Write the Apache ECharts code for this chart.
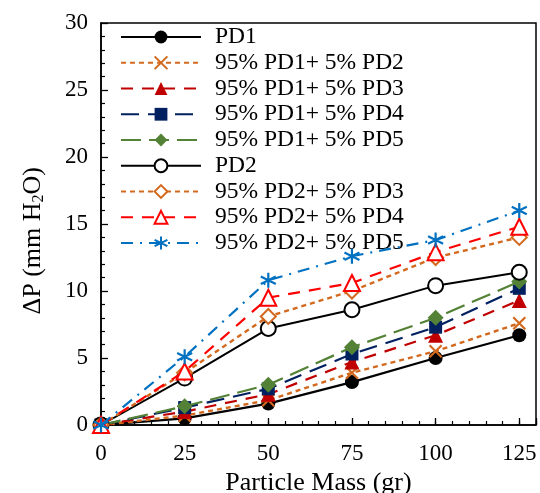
<!DOCTYPE html>
<html>
<head>
<meta charset="utf-8">
<script src="https://cdn.jsdelivr.net/npm/echarts@6/dist/echarts.min.js"></script>
<style>html,body{margin:0;padding:0;background:#fff}#c{width:540px;height:493px}</style>
</head>
<body>
<div id="c"></div>
<script>
const xValues = [0, 25, 50, 75, 100, 125];
const seriesNames = [
  'PD1',
  '95% PD1+ 5% PD2',
  '95% PD1+ 5% PD3',
  '95% PD1+ 5% PD4',
  '95% PD1+ 5% PD5',
  'PD2',
  '95% PD2+ 5% PD3',
  '95% PD2+ 5% PD4',
  '95% PD2+ 5% PD5'
];
const pd1      = [0, 0.5, 1.6, 3.2, 5.0, 6.7];
const pd1_pd2  = [0, 0.7, 1.85, 3.9, 5.5, 7.6];
const pd1_pd3  = [0, 1.0, 2.3, 4.7, 6.7, 9.3];
const pd1_pd4  = [0, 1.3, 2.7, 5.3, 7.3, 10.2];
const pd1_pd5  = [0, 1.4, 3.0, 5.8, 8.0, 10.7];
const pd2      = [0, 3.5, 7.2, 8.6, 10.4, 11.4];
const pd2_pd3  = [0, 3.9, 8.1, 10.0, 12.5, 14.0];
const pd2_pd4  = [0, 4.0, 9.5, 10.6, 12.9, 14.8];
const pd2_pd5  = [0, 5.1, 10.8, 12.6, 13.8, 16.0];
const xTicks = [0, 25, 50, 75, 100, 125];
const yTicks = [0, 5, 10, 15, 20, 25, 30];

const seriesData = [pd1, pd1_pd2, pd1_pd3, pd1_pd4, pd1_pd5, pd2, pd2_pd3, pd2_pd4, pd2_pd5];

const crossPath = 'path://M0,0 L10,10 M0,10 L10,0';
const starPath = 'path://M5,0 L5,10 M0.67,2.5 L9.33,7.5 M0.67,7.5 L9.33,2.5';

const styles = [
  {color:'#000000', type:'solid', symbol:'circle', size:14, width:2.2},
  {color:'#D2691E', type:[5,4], symbol:crossPath, size:12, width:2.4, stroke:true},
  {color:'#C00000', type:[12,9], symbol:'triangle', size:15, width:2.2},
  {color:'#002060', type:[18,9], symbol:'rect', size:13, width:2.2},
  {color:'#538135', type:[20,8], symbol:'diamond', size:16, width:2.2},
  {color:'#000000', type:'solid', symbol:'emptyCircle', size:15, width:2.0},
  {color:'#D2691E', type:[5,4], symbol:'emptyDiamond', size:15, width:2.4},
  {color:'#FF0000', type:[12,9], symbol:'emptyTriangle', size:16, width:2.2},
  {color:'#0070C0', type:[12,7,2,7], symbol:starPath, size:15, width:2.2, stroke:true}
];

const font = 'Liberation Serif';

const series = seriesNames.map((n, i) => {
  const s = styles[i];
  return {
    name: n,
    type: 'line',
    xAxisIndex: 0,
    data: xValues.map((x, j) => [x, seriesData[i][j]]),
    symbol: s.symbol,
    symbolSize: s.size,
    showAllSymbol: true,
    lineStyle: {color: s.color, type: s.type, width: s.width},
    itemStyle: s.stroke ? {color: s.color, borderColor: s.color, borderWidth: 2.2}
                        : {color: s.color, borderColor: s.color, borderWidth: s.symbol.indexOf('empty') === 0 ? 2 : 0},
    emphasis: {disabled: true},
    z: 2 + i
  };
});

const chart = echarts.init(document.getElementById('c'), null, {renderer: 'canvas'});
chart.setOption({
  animation: false,
  backgroundColor: '#ffffff',
  grid: {left: 101, right: 4, top: 23, bottom: 68, outerBoundsMode: 'none', containLabel: false,
         show: true, borderColor: '#000', borderWidth: 1.5, backgroundColor: 'transparent'},
  legend: {
    orient: 'vertical',
    left: 120,
    top: 25,
    padding: 0,
    itemWidth: 80,
    itemHeight: 16,
    itemGap: 1.75,
    data: seriesNames,
    textStyle: {fontFamily: font, fontSize: 23.5, color: '#000', lineHeight: 24, padding: [0,0,0,9]},
    selectedMode: false
  },
  xAxis: [
    {
      type: 'value', min: 0, max: 130, interval: 25,
      name: 'Particle Mass (gr)', nameLocation: 'middle', nameGap: 42,
      nameTextStyle: {fontFamily: font, fontSize: 26, color: '#000'},
      axisLine: {show: true, lineStyle: {color: '#000', width: 1.5}},
      axisTick: {show: true, inside: true, length: 7, lineStyle: {color: '#000', width: 1.3}},
      axisLabel: {fontFamily: font, fontSize: 23, color: '#000', margin: 17,
        formatter: v => (xTicks.indexOf(v) >= 0 ? String(v) : '')},
      splitLine: {show: false}
    },
    {
      type: 'value', min: 0, max: 130, interval: 5, position: 'bottom',
      axisLine: {show: false},
      axisTick: {show: true, inside: true, length: 4, lineStyle: {color: '#000', width: 1.2}},
      axisLabel: {show: false},
      splitLine: {show: false}
    }
  ],
  yAxis: {
    type: 'value', min: 0, max: 30, interval: 5,
    axisLine: {show: true, lineStyle: {color: '#000', width: 1.5}},
    axisTick: {show: true, inside: true, length: 7, lineStyle: {color: '#000', width: 1.3}},
    minorTick: {show: true, splitNumber: 5, length: 4, lineStyle: {color: '#000', width: 1.2}},
    axisLabel: {fontFamily: font, fontSize: 23, color: '#000', margin: 13,
      formatter: v => (yTicks.indexOf(v) >= 0 ? String(v) : '')},
    splitLine: {show: false}
  },
  graphic: [{
    type: 'text',
    left: 20, top: 167,
    rotation: Math.PI / 2,
    style: {
      text: '{a|ΔP (mm H}{s|2}{a|O)}',
      rich: {
        a: {fontFamily: font, fontSize: 26, fill: '#000'},
        s: {fontFamily: font, fontSize: 16, fill: '#000', padding: [12, 0, 0, 0]}
      }
    }
  }],
  series: series
});
</script>
</body>
</html>
